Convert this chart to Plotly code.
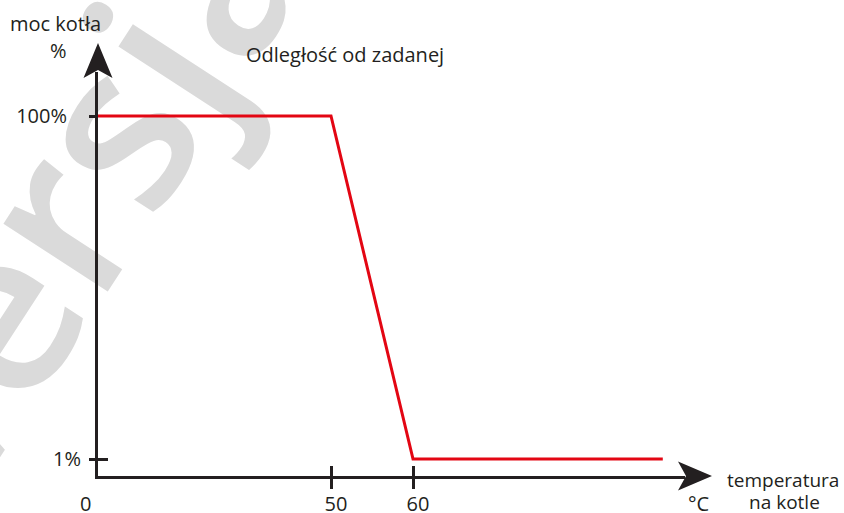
import numpy as np
import plotly.graph_objects as go

# ---- data ----
temperature = [0, 50, 60, 90]          # °C
boiler_power = [100, 100, 1, 1]        # %
x_tick_values = [50, 60]
x_tick_labels = ["50", "60"]
y_tick_values = [1, 100]
y_tick_labels = ["1%", "100%"]

# schematic (non-linear) x scale of the drawing: temperature -> axis units
SCALE_T = [0, 50, 60, 90]
SCALE_U = [0, 50, 67.6, 121.2]


def xs(t):
    return list(np.interp(t, SCALE_T, SCALE_U))


# ---- geometry (pixels) ----
W_FIG, H_FIG = 844, 513
PL, PR, PT, PB = 98, 685, 72, 476
PW, PH = PR - PL, PB - PT
X_PER_U = 4.66
Y_PER_U = 343 / 99.0
x_range = [0, PW / X_PER_U]
y_lo = 1 - (PB - 459) / Y_PER_U
y_range = [y_lo, y_lo + PH / Y_PER_U]

INK = "#231f20"
RED = "#e30613"
FONT = "Open Sans"
FS = 20


def px(x):
    return (x - PL) / PW


def py(y):
    return (PB - y) / PH


fig = go.Figure()
fig.add_trace(go.Scatter(x=xs(temperature), y=boiler_power, mode="lines",
                         line=dict(color=RED, width=3), showlegend=False,
                         hoverinfo="skip"))
fig.add_trace(go.Scatter(x=[None], y=[None], xaxis="x2", yaxis="y2",
                         showlegend=False, hoverinfo="skip"))

common = dict(showgrid=False, zeroline=False, fixedrange=True, automargin=False)
fig.update_layout(
    template="none",
    width=W_FIG, height=H_FIG, autosize=False,
    margin=dict(l=PL, r=W_FIG - PR, t=PT, b=H_FIG - PB, pad=0, autoexpand=False),
    paper_bgcolor="white", plot_bgcolor="rgba(0,0,0,0)",
    font=dict(family=FONT, size=FS, color=INK),
    xaxis=dict(range=x_range, tickvals=xs(x_tick_values), ticktext=x_tick_labels,
               ticks="outside", ticklen=10, tickwidth=2.5, tickcolor=INK,
               showline=True, linewidth=3, linecolor=INK,
               ticklabelshift=5, ticklabelstandoff=-2,
               tickfont=dict(size=FS, color=INK), **common),
    xaxis2=dict(range=x_range, overlaying="x", anchor="y2", side="bottom",
                tickvals=xs(x_tick_values), ticks="inside", ticklen=10,
                tickwidth=2.5, tickcolor=INK, showticklabels=False,
                showline=False, **common),
    yaxis=dict(range=y_range, tickvals=y_tick_values, ticktext=["", y_tick_labels[1]],
               ticks="outside", ticklen=6, tickwidth=2.5, tickcolor=INK,
               showline=True, linewidth=3, linecolor=INK,
               ticklabelstandoff=18, tickfont=dict(size=FS, color=INK), **common),
    yaxis2=dict(range=y_range, overlaying="y", anchor="x2", side="left",
                tickvals=[y_tick_values[0]], ticktext=[y_tick_labels[0]],
                ticks="inside", ticklen=10, tickwidth=2.5, tickcolor=INK,
                showline=False, ticklabelstandoff=16,
                tickfont=dict(size=FS, color=INK), **common),
)

# arrow heads
def path(points):
    return "M " + " L ".join(f"{px(a)},{py(b)}" for a, b in points) + " Z"

fig.add_shape(type="path", xref="paper", yref="paper",
              path=path([(98, 43), (112.5, 78), (98, 70), (83.5, 78)]),
              fillcolor=INK, line=dict(width=0))
fig.add_shape(type="path", xref="paper", yref="paper",
              path=path([(712, 476), (678, 461.5), (686, 476), (678, 490.5)]),
              fillcolor=INK, line=dict(width=0))

# watermark
fig.add_shape(type="rect", xref="paper", yref="paper",
              x0=px(-110), x1=px(230), y0=py(380), y1=py(80),
              line=dict(width=0), fillcolor="rgba(0,0,0,0)", layer="below",
              label=dict(text="wersja", textangle=-57, textposition="middle center",
                         font=dict(family=FONT, size=230, color="#dadada", weight=600)))

def text(s, x, y, xanchor="center", size=FS):
    fig.add_annotation(text=s, x=px(x), y=py(y), xref="paper", yref="paper",
                       xanchor=xanchor, yanchor="middle", showarrow=False,
                       font=dict(family=FONT, size=size, color=INK))

text("moc kotła", 55, 24)
text("%", 58, 51)
text("Odległość od zadanej", 345, 55)
text("0", 85, 503)
text("°C", 698, 503)
text("temperatura", 783, 480, size=19)
text("na kotle", 784, 502, size=19)

post = "document.body.style.margin='0';document.body.style.overflow='hidden';"
fig.write_html("out.html", config={"responsive": False, "displayModeBar": False},
               post_script=post)
